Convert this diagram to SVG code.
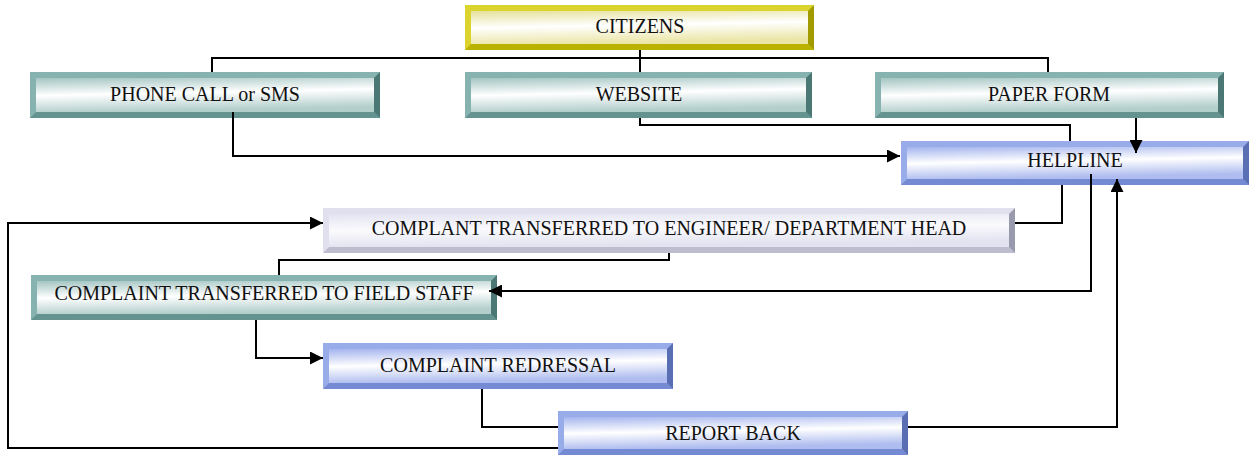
<svg xmlns="http://www.w3.org/2000/svg" width="1256" height="457" viewBox="0 0 1256 457">
<defs>
<linearGradient id="gYel" x1="0" y1="0" x2="0.2" y2="1"><stop offset="0" stop-color="#e6e19a"/><stop offset="0.5" stop-color="#ffffff"/><stop offset="1" stop-color="#ebe6a8"/></linearGradient>
<linearGradient id="gTeal" x1="0" y1="0" x2="0.2" y2="1"><stop offset="0" stop-color="#a3c5c2"/><stop offset="0.5" stop-color="#ffffff"/><stop offset="1" stop-color="#b3cfcc"/></linearGradient>
<linearGradient id="gBlue" x1="0" y1="0" x2="0.2" y2="1"><stop offset="0" stop-color="#a4b4ee"/><stop offset="0.5" stop-color="#ffffff"/><stop offset="1" stop-color="#aebcef"/></linearGradient>
<linearGradient id="gLav" x1="0" y1="0" x2="0.2" y2="1"><stop offset="0" stop-color="#e4e4f2"/><stop offset="0.5" stop-color="#fafafd"/><stop offset="1" stop-color="#e2e2f0"/></linearGradient>
<marker id="arr" viewBox="0 0 10 10" refX="10" refY="5" markerWidth="13" markerHeight="13" markerUnits="userSpaceOnUse" orient="auto"><path d="M0,0 L10,5 L0,10 z" fill="#000"/></marker>
<style>
text{font-family:"Liberation Serif","Times New Roman",serif;font-size:20px;fill:#111;text-anchor:middle}
.yel .o{fill:#dcd42e}.yel .b{fill:#b9b200}.yel .r{fill:#a29b00}.yel .i{fill:url(#gYel)}
.teal .o{fill:#86b3b0}.teal .b{fill:#65938f}.teal .r{fill:#4b7774}.teal .i{fill:url(#gTeal)}
.blue .o{fill:#98ace9}.blue .b{fill:#748bd3}.blue .r{fill:#5a6eb3}.blue .i{fill:url(#gBlue)}
.lav .o{fill:#e0e0ef}.lav .b{fill:#bdbdcf}.lav .r{fill:#9a9aae}.lav .i{fill:url(#gLav)}
.c path{fill:none;stroke:#000;stroke-width:2}
</style>
</defs>
<rect width="1256" height="457" fill="#fff"/>
<g id="citizens" class="yel">
<rect class="o" x="465" y="5" width="349" height="45"/>
<polygon class="b" points="465,50 814,50 808,44 471,44"/>
<polygon class="r" points="814,5 814,50 808,44 808,11"/>
<rect class="i" x="471" y="11" width="337" height="33"/>
<text x="640" y="33">CITIZENS</text>
</g>
<g id="phone" class="teal">
<rect class="o" x="30" y="72" width="350" height="46"/>
<polygon class="b" points="30,118 380,118 374,112 36,112"/>
<polygon class="r" points="380,72 380,118 374,112 374,78"/>
<rect class="i" x="36" y="78" width="338" height="34"/>
<text x="205" y="101">PHONE CALL or SMS</text>
</g>
<g id="website" class="teal">
<rect class="o" x="465" y="72" width="347" height="46"/>
<polygon class="b" points="465,118 812,118 806,112 471,112"/>
<polygon class="r" points="812,72 812,118 806,112 806,78"/>
<rect class="i" x="471" y="78" width="335" height="34"/>
<text x="639" y="101">WEBSITE</text>
</g>
<g id="paper" class="teal">
<rect class="o" x="875" y="72" width="349" height="46"/>
<polygon class="b" points="875,118 1224,118 1218,112 881,112"/>
<polygon class="r" points="1224,72 1224,118 1218,112 1218,78"/>
<rect class="i" x="881" y="78" width="337" height="34"/>
<text x="1049" y="101">PAPER FORM</text>
</g>
<g id="helpline" class="blue">
<rect class="o" x="901" y="141" width="348" height="44"/>
<polygon class="b" points="901,185 1249,185 1243,179 907,179"/>
<polygon class="r" points="1249,141 1249,185 1243,179 1243,147"/>
<rect class="i" x="907" y="147" width="336" height="32"/>
<text x="1075" y="167">HELPLINE</text>
</g>
<g id="engineer" class="lav">
<rect class="o" x="323" y="208" width="692" height="45"/>
<polygon class="b" points="323,253 1015,253 1009,247 329,247"/>
<polygon class="r" points="1015,208 1015,253 1009,247 1009,214"/>
<rect class="i" x="329" y="214" width="680" height="33"/>
<text x="669" y="235">COMPLANT TRANSFERRED TO ENGINEER/ DEPARTMENT HEAD</text>
</g>
<g id="fieldstaff" class="teal">
<rect class="o" x="31" y="275" width="466" height="45"/>
<polygon class="b" points="31,320 497,320 491,314 37,314"/>
<polygon class="r" points="497,275 497,320 491,314 491,281"/>
<rect class="i" x="37" y="281" width="454" height="33"/>
<text x="264" y="300">COMPLAINT TRANSFERRED TO FIELD STAFF</text>
</g>
<g id="redressal" class="blue">
<rect class="o" x="323" y="343" width="350" height="46"/>
<polygon class="b" points="323,389 673,389 667,383 329,383"/>
<polygon class="r" points="673,343 673,389 667,383 667,349"/>
<rect class="i" x="329" y="349" width="338" height="34"/>
<text x="498" y="372">COMPLAINT REDRESSAL</text>
</g>
<g id="reportback" class="blue">
<rect class="o" x="558" y="411" width="350" height="44"/>
<polygon class="b" points="558,455 908,455 902,449 564,449"/>
<polygon class="r" points="908,411 908,455 902,449 902,417"/>
<rect class="i" x="564" y="417" width="338" height="32"/>
<text x="733" y="440">REPORT BACK</text>
</g>
<g id="connectors" class="c">
<path d="M640,50 V58 M212,72 V58 H1048 V72 M640,58 V72"/>
<path d="M233,112 V156 H900" marker-end="url(#arr)"/>
<path d="M640,118 V125 H1070 V141"/>
<path d="M1136,118 V153" marker-end="url(#arr)"/>
<path d="M1062,185 V223 H1015"/>
<path d="M669,253 V260 H279 V275"/>
<path d="M1091,174 V291 H489" marker-end="url(#arr)"/>
<path d="M256,320 V358 H323" marker-end="url(#arr)"/>
<path d="M482,389 V427 H558"/>
<path d="M908,427 H1117 V179" marker-end="url(#arr)"/>
<path d="M558,448 H8 V223 H323" marker-end="url(#arr)"/>
</g>
</svg>
